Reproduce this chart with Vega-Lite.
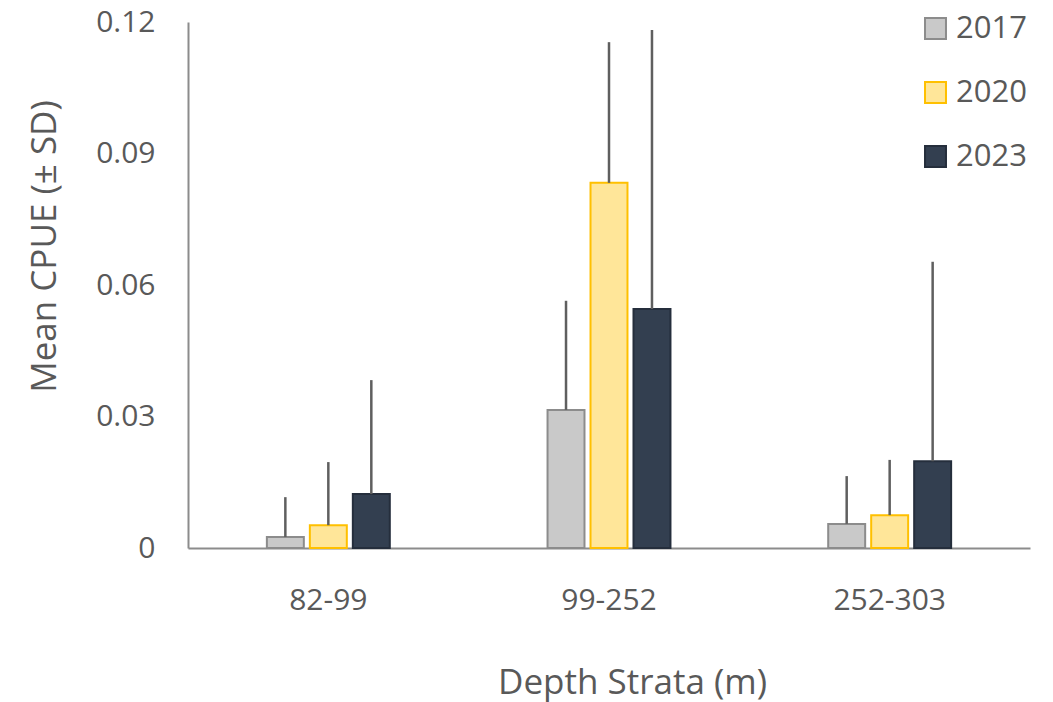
{
  "$schema": "https://vega.github.io/schema/vega-lite/v6.json",
  "width": 842,
  "height": 526,
  "autosize": {"type": "none"},
  "padding": {"left": 188, "top": 22, "right": 23, "bottom": 154},
  "background": "white",
  "config": {
    "view": {"stroke": null},
    "font": "Open Sans",
    "axis": {"labelColor": "#595959", "titleColor": "#595959", "titleFontWeight": "normal", "domainColor": "#8c8c8c", "domainWidth": 2, "ticks": false, "grid": false, "labelFont": "Open Sans", "titleFont": "Open Sans"},
    "legend": {"labelColor": "#595959", "labelFont": "Open Sans"}
  },
  "data": {
    "values": [
      {"strata": "82-99", "year": "2017", "mean": 0.0025, "upper": 0.0116},
      {"strata": "82-99", "year": "2020", "mean": 0.0052, "upper": 0.0196},
      {"strata": "82-99", "year": "2023", "mean": 0.0123, "upper": 0.0383},
      {"strata": "99-252", "year": "2017", "mean": 0.0315, "upper": 0.0564},
      {"strata": "99-252", "year": "2020", "mean": 0.0833, "upper": 0.1154},
      {"strata": "99-252", "year": "2023", "mean": 0.0545, "upper": 0.1182},
      {"strata": "252-303", "year": "2017", "mean": 0.0055, "upper": 0.0164},
      {"strata": "252-303", "year": "2020", "mean": 0.0075, "upper": 0.0201},
      {"strata": "252-303", "year": "2023", "mean": 0.0198, "upper": 0.0653}
    ]
  },
  "encoding": {
    "x": {
      "field": "strata", "type": "nominal", "sort": ["82-99", "99-252", "252-303"],
      "scale": {"paddingInner": 0.562, "paddingOuter": 0.281},
      "axis": {"title": "Depth Strata (m)", "labelAngle": 0, "labelFontSize": 30, "labelPadding": 37, "titleFontSize": 35, "titleX": 444, "titleY": 134, "titleBaseline": "middle"}
    },
    "xOffset": {"field": "year", "type": "nominal", "scale": {"paddingInner": 0.14, "paddingOuter": 0}}
  },
  "layer": [
    {
      "mark": {"type": "bar", "strokeWidth": 2},
      "encoding": {
        "y": {
          "field": "mean", "type": "quantitative",
          "scale": {"domain": [0, 0.12], "nice": false, "zero": true},
          "axis": {"title": "Mean CPUE (± SD)", "values": [0, 0.03, 0.06, 0.09, 0.12], "format": ".2~f", "labelFontSize": 30, "labelPadding": 33, "titleFontSize": 35, "titleY": 224, "titleX": -133, "titleBaseline": "alphabetic"}
        },
        "fill": {
          "field": "year", "type": "nominal",
          "scale": {"domain": ["2017", "2020", "2023"], "range": ["#c9c9c9", "#ffe699", "#333f50"]},
          "legend": {"title": null, "orient": "none", "legendX": 732, "legendY": -9, "symbolType": "square", "symbolSize": 440, "symbolStrokeWidth": 2, "labelFontSize": 31, "labelOffset": 5, "rowPadding": 32, "labelLimit": 200}
        },
        "stroke": {
          "field": "year", "type": "nominal",
          "scale": {"domain": ["2017", "2020", "2023"], "range": ["#8c8c8c", "#ffc000", "#252e3c"]},
          "legend": {"title": null, "orient": "none", "legendX": 732, "legendY": -9, "symbolType": "square", "symbolSize": 440, "symbolStrokeWidth": 2, "labelFontSize": 31, "labelOffset": 5, "rowPadding": 32, "labelLimit": 200}
        }
      }
    },
    {
      "mark": {"type": "rule", "color": "#5f5f5f", "strokeWidth": 2.5},
      "encoding": {
        "y": {"field": "mean", "type": "quantitative"},
        "y2": {"field": "upper"}
      }
    }
  ]
}
